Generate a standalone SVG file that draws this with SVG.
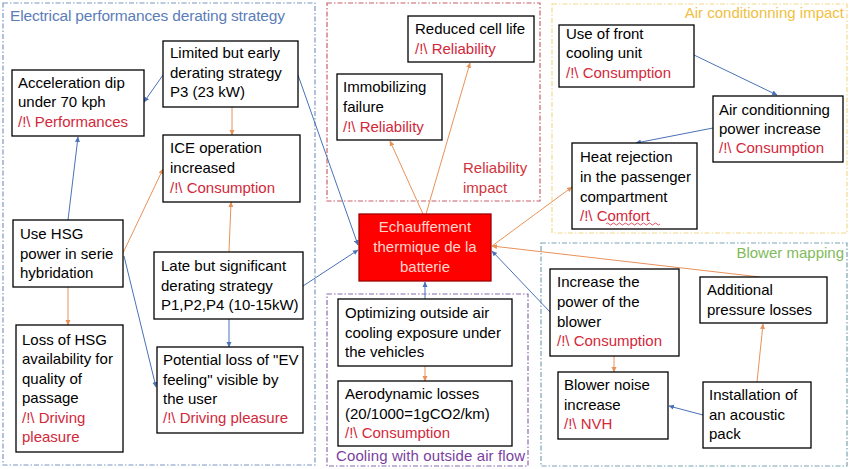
<svg xmlns="http://www.w3.org/2000/svg" width="850" height="469" viewBox="0 0 850 469">
<defs>
<marker id="ab" markerWidth="6" markerHeight="6" refX="5" refY="3" orient="auto" markerUnits="userSpaceOnUse"><path d="M0,0.5 L5.5,3 L0,5.5 Z" fill="#4a72b8"/></marker>
<marker id="ao" markerWidth="6" markerHeight="6" refX="5" refY="3" orient="auto" markerUnits="userSpaceOnUse"><path d="M0,0.5 L5.5,3 L0,5.5 Z" fill="#e8925a"/></marker>
</defs>
<style>
text{font-family:"Liberation Sans",Arial,sans-serif;font-size:15px;fill:#000}
.w{fill:#d2283a}
.box{fill:#fff;stroke:#000;stroke-width:1.3}
.grp{fill:none;stroke-width:1.2;stroke-dasharray:5 2 1.5 2}
.b{stroke:#4a72b8;stroke-width:1;fill:none;marker-end:url(#ab)}
.o{stroke:#e8925a;stroke-width:1;fill:none;marker-end:url(#ao)}
</style>
<rect width="850" height="469" fill="#fff"/>
<g id="groups">
<rect class="grp" x="3" y="3" width="312" height="462" stroke="#7d98c4"/>
<rect class="grp" x="327" y="3" width="213" height="198" stroke="#c8606a"/>
<rect class="grp" x="552" y="4" width="295" height="229" stroke="#f3d98c"/>
<rect class="grp" x="541" y="243" width="306" height="223" stroke="#7aa4b4"/>
<rect class="grp" x="327" y="294" width="201" height="172" stroke="#8c6aae"/>
<text x="10" y="21" style="fill:#5b7db8;font-size:15.5px" textLength="275">Electrical performances derating strategy</text>
<text x="463" y="173" style="fill:#d0343c">Reliability</text>
<text x="463" y="193" style="fill:#d0343c">impact</text>
<text x="844" y="18" text-anchor="end" style="fill:#f0c040">Air conditionning impact</text>
<text x="844" y="258" text-anchor="end" style="fill:#7fba5a">Blower mapping</text>
<text x="336" y="461" style="fill:#7a3fa0" textLength="189">Cooling with outside air flow</text>
</g>
<g id="connectors">
<line class="b" x1="163" y1="75" x2="144" y2="102"/>
<line class="o" x1="232" y1="107" x2="232" y2="135"/>
<line class="b" x1="298" y1="75" x2="358" y2="245"/>
<line class="b" x1="303" y1="286" x2="358" y2="250"/>
<line class="b" x1="68" y1="220" x2="78" y2="137"/>
<line class="o" x1="123" y1="253" x2="163" y2="169"/>
<line class="b" x1="124" y1="256" x2="156" y2="387"/>
<line class="o" x1="68" y1="287" x2="68" y2="325"/>
<line class="o" x1="229" y1="252" x2="231" y2="202"/>
<line class="b" x1="229" y1="319" x2="229" y2="347"/>
<line class="o" x1="423" y1="214" x2="390" y2="141"/>
<line class="o" x1="426" y1="214" x2="470" y2="63"/>
<line class="o" x1="492" y1="246" x2="572" y2="187"/>
<line class="o" x1="760" y1="277" x2="492" y2="246"/>
<line class="b" x1="550" y1="312" x2="492" y2="251"/>
<line class="b" x1="425" y1="299" x2="425" y2="282"/>
<line class="o" x1="425" y1="366" x2="425" y2="381"/>
<line class="b" x1="694" y1="55" x2="777" y2="95"/>
<line class="b" x1="713" y1="128" x2="636" y2="143"/>
<line class="o" x1="614" y1="356" x2="614" y2="372"/>
<line class="o" x1="757" y1="382" x2="763" y2="324"/>
<line class="b" x1="703" y1="415" x2="669" y2="406"/>
</g>
<g id="n-accel">
<rect class="box" x="12" y="70" width="132" height="66"/>
<text x="18" y="88">Acceleration dip</text>
<text x="18" y="107">under 70 kph</text>
<text x="18" y="127" class="w">/!\ Performances</text>
</g>
<g id="n-limited">
<rect class="box" x="163" y="41" width="135" height="66"/>
<text x="170" y="58">Limited but early</text>
<text x="170" y="78">derating strategy</text>
<text x="170" y="97">P3 (23 kW)</text>
</g>
<g id="n-ice">
<rect class="box" x="163" y="135" width="137" height="67"/>
<text x="170" y="153">ICE operation</text>
<text x="170" y="173">increased</text>
<text x="170" y="193" class="w">/!\ Consumption</text>
</g>
<g id="n-usehsg">
<rect class="box" x="13" y="220" width="110" height="67"/>
<text x="20" y="239">Use HSG</text>
<text x="20" y="259">power in serie</text>
<text x="20" y="278">hybridation</text>
</g>
<g id="n-late">
<rect class="box" x="154" y="252" width="149" height="67"/>
<text x="161" y="271">Late but significant</text>
<text x="161" y="291">derating strategy</text>
<text x="161" y="310">P1,P2,P4 (10-15kW)</text>
</g>
<g id="n-losshsg">
<rect class="box" x="16" y="325" width="107" height="127"/>
<text x="22" y="345">Loss of HSG</text>
<text x="22" y="364">availability for</text>
<text x="22" y="384">quality of</text>
<text x="22" y="403">passage</text>
<text x="22" y="423" class="w">/!\ Driving</text>
<text x="22" y="442" class="w">pleasure</text>
</g>
<g id="n-potential">
<rect class="box" x="157" y="347" width="146" height="86"/>
<text x="163" y="365">Potential loss of "EV</text>
<text x="163" y="385">feeling" visible by</text>
<text x="163" y="404">the user</text>
<text x="163" y="423" class="w">/!\ Driving pleasure</text>
</g>
<g id="n-reduced">
<rect class="box" x="408" y="16" width="126" height="46"/>
<text x="415" y="34">Reduced cell life</text>
<text x="415" y="54" class="w">/!\ Reliability</text>
</g>
<g id="n-immob">
<rect class="box" x="337" y="74" width="105" height="66"/>
<text x="343" y="92">Immobilizing</text>
<text x="343" y="112">failure</text>
<text x="343" y="132" class="w">/!\ Reliability</text>
</g>
<g id="n-echauffement">
<rect x="359" y="214" width="132" height="67" fill="#ff0000" stroke="#a00000" stroke-width="1.3"/>
<text x="425" y="232" text-anchor="middle" style="fill:#fcd6cc">Echauffement</text>
<text x="425" y="252" text-anchor="middle" style="fill:#fcd6cc">thermique de la</text>
<text x="425" y="272" text-anchor="middle" style="fill:#fcd6cc">batterie</text>
</g>
<g id="n-optimizing">
<rect class="box" x="338" y="299" width="174" height="67"/>
<text x="345" y="318">Optimizing outside air</text>
<text x="345" y="338">cooling exposure under</text>
<text x="345" y="357">the vehicles</text>
</g>
<g id="n-aero">
<rect class="box" x="338" y="381" width="174" height="65"/>
<text x="345" y="399">Aerodynamic losses</text>
<text x="345" y="419">(20/1000=1gCO2/km)</text>
<text x="345" y="438" class="w">/!\ Consumption</text>
</g>
<g id="n-front">
<rect class="box" x="559" y="25" width="135" height="62"/>
<text x="566" y="39">Use of front</text>
<text x="566" y="58">cooling unit</text>
<text x="566" y="78" class="w">/!\ Consumption</text>
</g>
<g id="n-aircond">
<rect class="box" x="713" y="96" width="130" height="66"/>
<text x="719" y="115">Air conditionning</text>
<text x="719" y="134">power increase</text>
<text x="719" y="153" class="w">/!\ Consumption</text>
</g>
<g id="n-heat">
<rect class="box" x="572" y="143" width="125" height="86"/>
<text x="580" y="162">Heat rejection</text>
<text x="580" y="182">in the passenger</text>
<text x="580" y="202">compartment</text>
<text x="580" y="221" class="w">/!\ Comfort</text>
<path d="M606,224 q1.5,-2 3,0 t3,0 t3,0 t3,0 t3,0 t3,0 t3,0 t3,0 t3,0 t3,0 t3,0 t3,0 t3,0 t3,0 t3,0 t3,0 t3,0 t3,0" fill="none" stroke="#d2283a" stroke-width="0.8"/>
</g>
<g id="n-increase">
<rect class="box" x="550" y="269" width="129" height="87"/>
<text x="557" y="287">Increase the</text>
<text x="557" y="307">power of the</text>
<text x="557" y="327">blower</text>
<text x="557" y="346" class="w">/!\ Consumption</text>
</g>
<g id="n-additional">
<rect class="box" x="700" y="277" width="127" height="46"/>
<text x="707" y="295">Additional</text>
<text x="707" y="315">pressure losses</text>
</g>
<g id="n-noise">
<rect class="box" x="558" y="372" width="110" height="67"/>
<text x="564" y="390">Blower noise</text>
<text x="564" y="410">increase</text>
<text x="564" y="429" class="w">/!\ NVH</text>
</g>
<g id="n-install">
<rect class="box" x="703" y="382" width="108" height="66"/>
<text x="709" y="400">Installation of</text>
<text x="709" y="420">an acoustic</text>
<text x="709" y="439">pack</text>
</g>
</svg>
